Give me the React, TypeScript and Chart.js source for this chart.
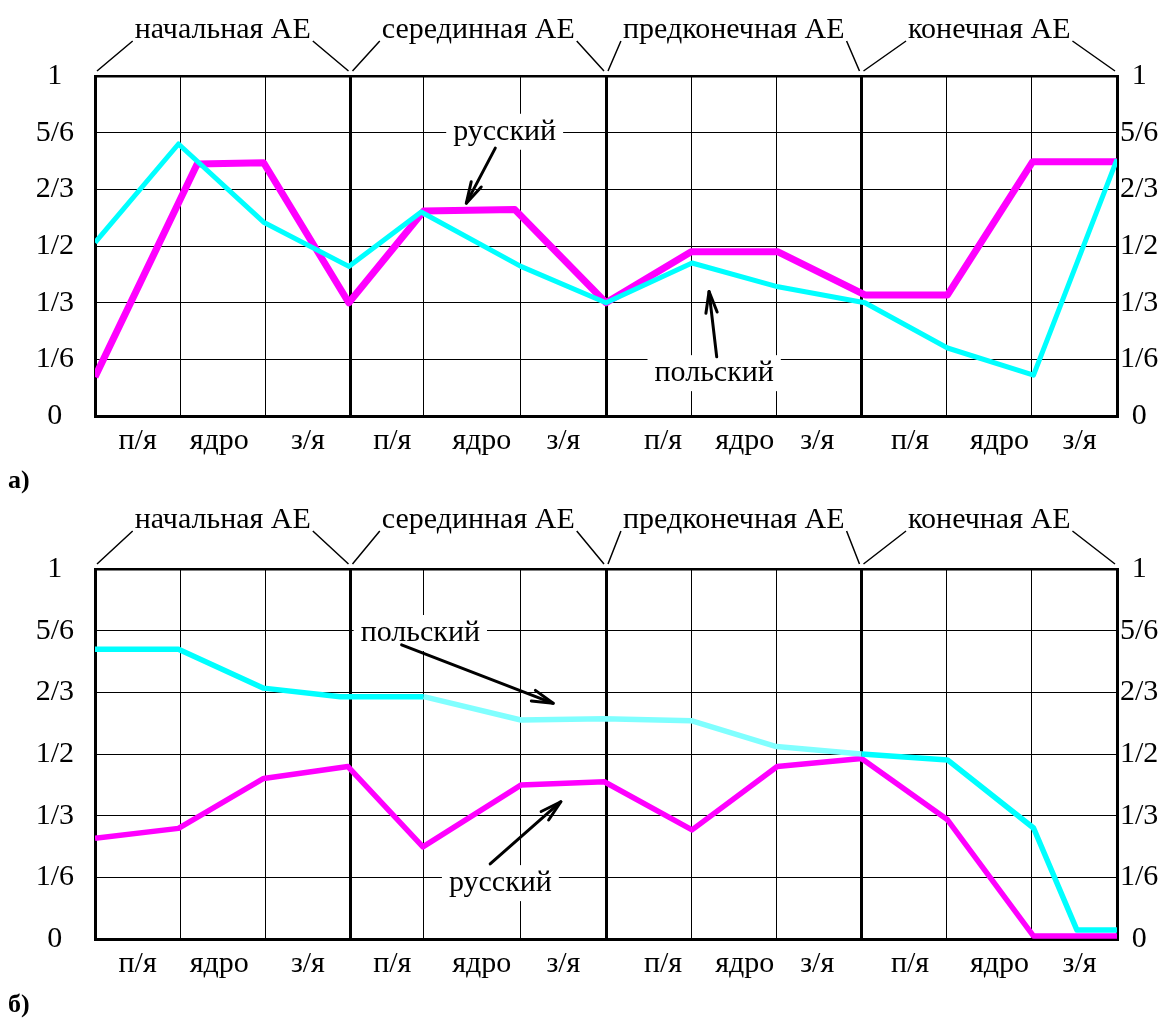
import React, { useEffect, useRef } from 'react';
import { Chart, registerables } from 'chart.js';

Chart.register(...registerables);

// ---------- data ----------
const groupNames = ['начальная АЕ', 'серединная АЕ', 'предконечная АЕ', 'конечная АЕ'];
const columnLabels = ['п/я', 'ядро', 'з/я', 'п/я', 'ядро', 'з/я', 'п/я', 'ядро', 'з/я', 'п/я', 'ядро', 'з/я'];
const labelPositions = [0.5, 1.46, 2.5, 3.49, 4.54, 5.5, 6.67, 7.63, 8.48, 9.57, 10.62, 11.56];
const boundaries = [0, 1, 2, 3, 3.86, 5, 6, 7, 8, 9, 10, 11, 12];
const groupBoundaries = [0, 3, 6, 9, 12];
const yTickValues = [0, 1 / 6, 1 / 3, 1 / 2, 2 / 3, 5 / 6, 1];
const yTickLabels = ['0', '1/6', '1/3', '1/2', '2/3', '5/6', '1'];

// panel а)
const aRussianX = [0, 1.2, 1.98, 2.98, 3.86, 4.93, 6, 7, 8.02, 9.04, 10.01, 11.01, 12];
const aRussianY = [0.115, 0.741, 0.745, 0.333, 0.603, 0.607, 0.333, 0.483, 0.483, 0.356, 0.356, 0.748, 0.748];
const aPolishX = [0, 0.98, 1.98, 2.98, 3.83, 5, 6, 7.01, 8.02, 9.04, 10.01, 11.02, 12];
const aPolishY = [0.51, 0.8, 0.57, 0.44, 0.6, 0.44, 0.333, 0.45, 0.38, 0.333, 0.2, 0.12, 0.755];
const aNotes = [
  { text: 'русский', x: 4.81, y: 0.836, fromX: 4.7, fromY: 0.788, toX: 4.36, toY: 0.626 },
  { text: 'польский', x: 7.27, y: 0.126, fromX: 7.3, fromY: 0.174, toX: 7.21, toY: 0.366 },
];

// panel б)
const bRussianX = [0, 0.98, 1.98, 2.97, 3.85, 5, 5.98, 7.01, 8.01, 9, 10.01, 11.02, 12];
const bRussianY = [0.272, 0.299, 0.434, 0.466, 0.249, 0.416, 0.425, 0.295, 0.466, 0.488, 0.322, 0.008, 0.008];
const bPolishX = [0, 0.98, 1.98, 2.88, 3.86, 5, 5.98, 7, 8, 9, 10.01, 11.02, 11.53, 12];
const bPolishY = [0.783, 0.783, 0.678, 0.655, 0.655, 0.592, 0.595, 0.59, 0.52, 0.5, 0.484, 0.3, 0.024, 0.024];
const bLightRange = [3.86, 9];
const bNotes = [
  { text: 'польский', x: 3.82, y: 0.827, fromX: 3.6, fromY: 0.795, toX: 5.38, toY: 0.637 },
  { text: 'русский', x: 4.76, y: 0.151, fromX: 4.64, fromY: 0.203, toX: 5.47, toY: 0.371 },
];

// ---------- styles ----------
const FONT = '"Liberation Serif", "Times New Roman", serif';
const FS = 30;
const MAGENTA = '#ff00ff';
const CYAN = '#00ffff';
const LIGHT_CYAN = '#80ffff';

type Note = { text: string; x: number; y: number; fromX: number; fromY: number; toX: number; toY: number };

type Panel = {
  canvasTop: number;
  height: number;
  plotTop: number;
  plotBottom: number;
  bracketBaseline: number;
  panelBaseline: number;
  panelLabel: string;
  russianX: number[];
  russianY: number[];
  polishX: number[];
  polishY: number[];
  russianWidth: number;
  polishWidth: number;
  lightRange: number[] | null;
  notes: Note[];
};

const panelA: Panel = {
  canvasTop: 0,
  height: 500,
  plotTop: 76,
  plotBottom: 416,
  bracketBaseline: 38,
  panelBaseline: 488,
  panelLabel: 'а)',
  russianX: aRussianX,
  russianY: aRussianY,
  polishX: aPolishX,
  polishY: aPolishY,
  russianWidth: 7,
  polishWidth: 5,
  lightRange: null,
  notes: aNotes,
};

const panelB: Panel = {
  canvasTop: 500,
  height: 521,
  plotTop: 569,
  plotBottom: 939,
  bracketBaseline: 528,
  panelBaseline: 1012,
  panelLabel: 'б)',
  russianX: bRussianX,
  russianY: bRussianY,
  polishX: bPolishX,
  polishY: bPolishY,
  russianWidth: 5.5,
  polishWidth: 5.5,
  lightRange: bLightRange,
  notes: bNotes,
};

function drawArrow(ctx: CanvasRenderingContext2D, x0: number, y0: number, x1: number, y1: number) {
  ctx.save();
  ctx.strokeStyle = '#000';
  ctx.lineCap = 'round';
  ctx.lineJoin = 'round';
  ctx.lineWidth = 3;
  ctx.beginPath();
  ctx.moveTo(x0, y0);
  ctx.lineTo(x1, y1);
  ctx.stroke();
  const ang = Math.atan2(y1 - y0, x1 - x0);
  const L = 22;
  const spread = 0.26;
  ctx.lineWidth = 3;
  ctx.beginPath();
  ctx.moveTo(x1 - L * Math.cos(ang - spread), y1 - L * Math.sin(ang - spread));
  ctx.lineTo(x1, y1);
  ctx.lineTo(x1 - L * Math.cos(ang + spread), y1 - L * Math.sin(ang + spread));
  ctx.stroke();
  ctx.restore();
}

function decorPlugin(p: Panel) {
  return {
    id: 'decor',
    beforeDatasetsDraw(chart: any) {
      const ctx: CanvasRenderingContext2D = chart.ctx;
      const xs = chart.scales.x;
      const ys = chart.scales.y;
      ctx.save();
      ctx.font = `${FS}px ${FONT}`;
      ctx.textAlign = 'center';
      ctx.textBaseline = 'middle';
      for (const n of p.notes) {
        const px = xs.getPixelForValue(n.x);
        const py = ys.getPixelForValue(n.y);
        const w = ctx.measureText(n.text).width;
        ctx.fillStyle = '#fff';
        ctx.fillRect(px - w / 2 - 7, py - 18, w + 14, 36);
        ctx.fillStyle = '#000';
        ctx.fillText(n.text, px, py);
        drawArrow(
          ctx,
          xs.getPixelForValue(n.fromX),
          ys.getPixelForValue(n.fromY),
          xs.getPixelForValue(n.toX),
          ys.getPixelForValue(n.toY)
        );
      }
      ctx.restore();
    },
    afterDraw(chart: any) {
      const ctx: CanvasRenderingContext2D = chart.ctx;
      const xs = chart.scales.x;
      const top = chart.chartArea.top;
      const base = p.bracketBaseline - p.canvasTop;
      ctx.save();
      ctx.font = `${FS}px ${FONT}`;
      ctx.textAlign = 'center';
      ctx.textBaseline = 'alphabetic';
      ctx.fillStyle = '#000';
      ctx.strokeStyle = '#000';
      ctx.lineWidth = 1.5;
      for (let g = 0; g < groupNames.length; g++) {
        const l = xs.getPixelForValue(groupBoundaries[g]);
        const r = xs.getPixelForValue(groupBoundaries[g + 1]);
        const cx = (l + r) / 2;
        const w = ctx.measureText(groupNames[g]).width;
        ctx.fillText(groupNames[g], cx, base);
        ctx.beginPath();
        ctx.moveTo(l + 2, top - 5);
        ctx.lineTo(cx - w / 2 - 2, base + 3);
        ctx.moveTo(cx + w / 2 + 2, base + 3);
        ctx.lineTo(r - 2, top - 5);
        ctx.stroke();
      }
      ctx.font = `bold 26px ${FONT}`;
      ctx.textAlign = 'left';
      ctx.fillText(p.panelLabel, 8, p.panelBaseline - p.canvasTop);
      ctx.restore();
    },
  };
}

function buildChart(canvas: HTMLCanvasElement, p: Panel) {
  const plotTop = p.plotTop - p.canvasTop;
  const plotBottom = p.plotBottom - p.canvasTop;
  const xAxisH = p.height - plotBottom;
  const xTicks = [
    ...boundaries.map((v) => ({ value: v, lbl: '', boundary: true, group: groupBoundaries.includes(v) })),
    ...labelPositions.map((v, i) => ({ value: v, lbl: columnLabels[i], boundary: false, group: false })),
  ];
  const tickFont = { family: FONT, size: FS };
  const lr = p.lightRange;
  return new Chart(canvas, {
    type: 'line',
    data: {
      datasets: [
        {
          label: 'польский',
          data: p.polishX.map((x, i) => ({ x, y: p.polishY[i] })),
          borderColor: CYAN,
          borderWidth: p.polishWidth,
          pointRadius: 0,
          borderJoinStyle: 'round',
          segment: lr
            ? {
                borderColor: (c: any) =>
                  c.p0.parsed.x >= lr[0] - 1e-6 && c.p1.parsed.x <= lr[1] + 1e-6 ? LIGHT_CYAN : CYAN,
              }
            : undefined,
        },
        {
          label: 'русский',
          data: p.russianX.map((x, i) => ({ x, y: p.russianY[i] })),
          borderColor: MAGENTA,
          borderWidth: p.russianWidth,
          pointRadius: 0,
          borderJoinStyle: 'round',
        },
      ],
    },
    options: {
      responsive: false,
      animation: false,
      devicePixelRatio: 1,
      layout: { padding: { top: plotTop, left: 0, right: 0, bottom: 0 } },
      plugins: { legend: { display: false }, tooltip: { enabled: false } },
      scales: {
        x: {
          type: 'linear',
          position: 'bottom',
          min: 0,
          max: 12,
          afterBuildTicks: (s: any) => {
            s.ticks = xTicks.map((t) => ({ ...t }));
          },
          afterFit: (s: any) => {
            s.height = xAxisH;
          },
          grid: {
            drawTicks: false,
            color: (c: any) => (c.tick && c.tick.boundary ? '#000' : 'rgba(0,0,0,0)'),
            lineWidth: (c: any) => (c.tick && c.tick.group ? 3 : 1),
          },
          border: { display: true, color: '#000', width: 3 },
          ticks: {
            autoSkip: false,
            maxRotation: 0,
            minRotation: 0,
            padding: 7,
            color: '#000',
            font: tickFont,
            callback: (_v: any, i: number, ticks: any[]) => (ticks[i] && ticks[i].lbl) || '',
          },
        },
        y: {
          type: 'linear',
          position: 'left',
          min: 0,
          max: 1,
          afterBuildTicks: (s: any) => {
            s.ticks = yTickValues.map((v) => ({ value: v }));
          },
          afterFit: (s: any) => {
            s.width = 95;
          },
          grid: {
            drawTicks: false,
            color: '#000',
            lineWidth: (c: any) => (c.index === 6 ? 2.5 : 1),
          },
          border: { display: true, color: '#000', width: 3 },
          ticks: {
            crossAlign: 'center',
            padding: 21,
            color: '#000',
            font: tickFont,
            callback: (_v: any, i: number) => yTickLabels[i],
          },
        },
        y2: {
          type: 'linear',
          position: 'right',
          min: 0,
          max: 1,
          afterBuildTicks: (s: any) => {
            s.ticks = yTickValues.map((v) => ({ value: v }));
          },
          afterFit: (s: any) => {
            s.width = 48;
          },
          grid: { display: false, drawTicks: false },
          border: { display: true, color: '#000', width: 3 },
          ticks: {
            crossAlign: 'center',
            padding: 3,
            color: '#000',
            font: tickFont,
            callback: (_v: any, i: number) => yTickLabels[i],
          },
        },
      },
    } as any,
    plugins: [decorPlugin(p)],
  });
}

export default function App() {
  const refA = useRef<HTMLCanvasElement>(null);
  const refB = useRef<HTMLCanvasElement>(null);
  useEffect(() => {
    const c1 = buildChart(refA.current as HTMLCanvasElement, panelA);
    const c2 = buildChart(refB.current as HTMLCanvasElement, panelB);
    return () => {
      c1.destroy();
      c2.destroy();
    };
  }, []);
  return (
    <div style={{ position: 'absolute', left: 0, top: 0, width: 1165, height: 1021, background: '#fff' }}>
      <canvas
        ref={refA}
        width={1165}
        height={panelA.height}
        style={{ position: 'absolute', left: 0, top: panelA.canvasTop, width: 1165, height: panelA.height }}
      />
      <canvas
        ref={refB}
        width={1165}
        height={panelB.height}
        style={{ position: 'absolute', left: 0, top: panelB.canvasTop, width: 1165, height: panelB.height }}
      />
    </div>
  );
}
